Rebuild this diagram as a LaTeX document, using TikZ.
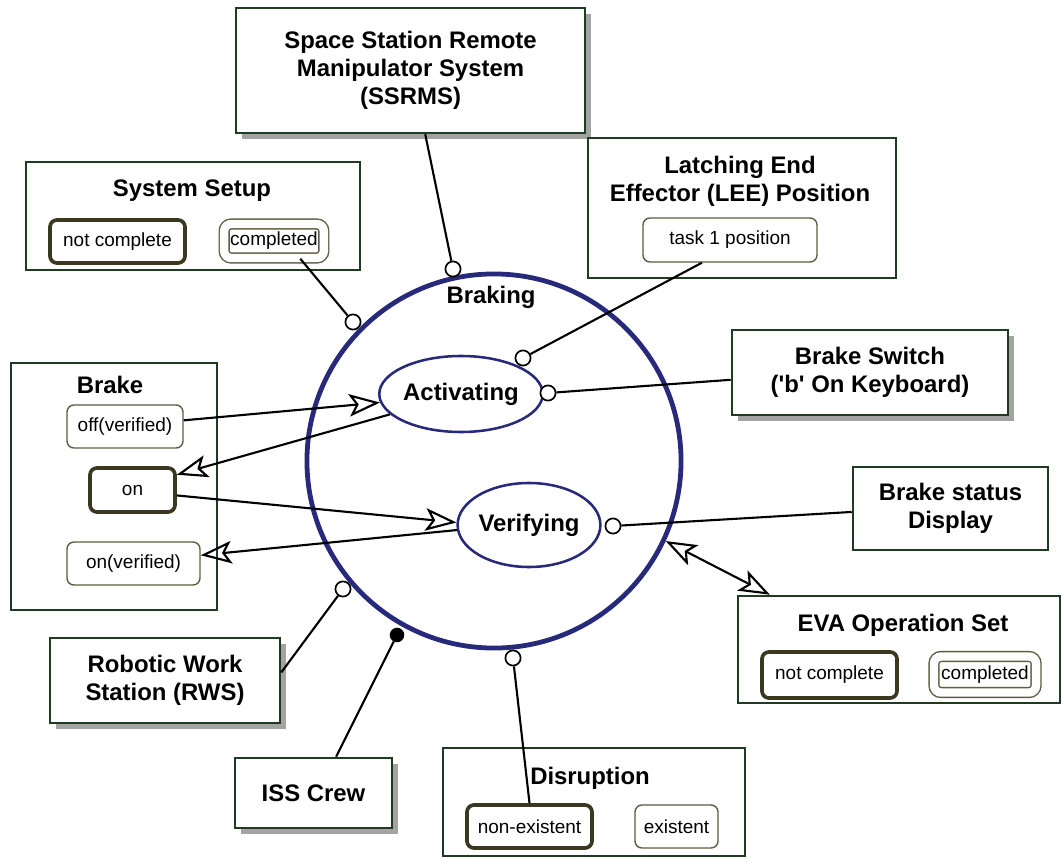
\documentclass[tikz,border=0pt]{standalone}
\usepackage{fontspec}
\setmainfont{Liberation Sans}
\usetikzlibrary{arrows.meta,shapes.geometric,shadows}
\definecolor{Navy}{HTML}{27297A}
\definecolor{Forest}{HTML}{1F3B22}
\definecolor{Olive}{HTML}{3A3820}
\definecolor{OliveL}{HTML}{5E5C42}
\definecolor{Shade}{HTML}{A3A3A3}

\begin{document}
\begin{tikzpicture}[x=0.025cm,y=-0.025cm,
    font=\fontsize{17}{20}\selectfont\bfseries,
    obj/.style={draw=Forest,fill=white,line width=1.8pt,inner sep=0pt,align=center},
    phys/.style={obj,drop shadow={shadow xshift=0.14cm,shadow yshift=-0.14cm,fill=Shade,opacity=1}},
    ttl/.style={inner sep=0pt,align=center},
    st/.style={draw=OliveL,fill=white,rounded corners=5pt,line width=1pt,inner sep=0pt,
      font=\fontsize{13.5}{15}\selectfont\mdseries},
    stinit/.style={st,draw=Olive,line width=2.6pt},
    stfinal/.style={st,double,double distance=6pt},
    proc/.style={ellipse,draw=Navy,line width=1.8pt,inner sep=0pt},
    lnk/.style={circle,draw=black,fill=white,line width=1.2pt,minimum size=0.38cm,inner sep=0pt},
    agt/.style={lnk,fill=black,minimum size=0.32cm},
    lk/.style={line width=1.5pt},
    arr/.style={line width=1.5pt,-{Stealth[open,length=22pt,width=16pt,inset=5pt]}},
    arr2/.style={line width=1.5pt,{Stealth[open,length=22pt,width=16pt,inset=5pt]}-{Stealth[open,length=22pt,width=16pt,inset=5pt]}}]
  \useasboundingbox (0,0) rectangle (1062,859);

  % objects
  \node[phys,minimum width=8.725cm,minimum height=3.125cm] (SSRMS) at (410.5,70.5) {Space Station Remote\\Manipulator System\\(SSRMS)};

  \node[obj,minimum width=8.35cm,minimum height=2.7cm] (Setup) at (193,216) {};
  \node[ttl] (SetupT) at (192,191) {System Setup};
  \node[stinit,minimum width=3.375cm,minimum height=1.075cm] (SetupNC) at (117.5,241.5) {not complete};
  \node[stfinal,minimum width=2.49cm,minimum height=0.85cm] (SetupC) at (274,241) {completed};

  \node[obj,minimum width=7.7cm,minimum height=3.5cm] (LEE) at (742,208) {};
  \node[ttl] (LEET) at (740,181.5) {Latching End\\Effector (LEE) Position};
  \node[st,minimum width=4.35cm,minimum height=1.1cm] (Task) at (730,240) {task 1 position};

  \node[phys,minimum width=6.9cm,minimum height=2.125cm] (Switch) at (870,372.5) {Brake Switch\\(\textquotesingle b\textquotesingle{} On Keyboard)};

  \node[obj,minimum width=5.15cm,minimum height=6.175cm] (Brk) at (114,486.5) {};
  \node[ttl] (BrkT) at (110,385) {Brake};
  \node[st,minimum width=2.9cm,minimum height=1.075cm] (Off) at (125,426.5) {off(verified)};
  \node[stinit,minimum width=2.125cm,minimum height=1.1cm] (On) at (132.5,490) {on};
  \node[st,minimum width=3.325cm,minimum height=1.075cm] (OnV) at (133.5,563.5) {on(verified)};

  \node[obj,minimum width=4.875cm,minimum height=2.075cm] (Disp) at (950.5,508.5) {Brake status\\Display};

  \node[obj,minimum width=8.05cm,minimum height=2.675cm] (EVA) at (899,649.5) {};
  \node[ttl] (EVAT) at (903,625) {EVA Operation Set};
  \node[stinit,minimum width=3.375cm,minimum height=1.15cm] (EVANC) at (829.5,675) {not complete};
  \node[stfinal,minimum width=2.55cm,minimum height=0.9cm] (EVAC) at (985,674.5) {completed};

  \node[phys,minimum width=5.75cm,minimum height=2.125cm] (RWS) at (165,680.5) {Robotic Work\\Station (RWS)};
  \node[phys,minimum width=3.925cm,minimum height=1.75cm] (Crew) at (313.5,793) {ISS Crew};

  \node[obj,minimum width=7.55cm,minimum height=2.7cm] (Disr) at (594,802) {};
  \node[ttl] (DisrT) at (590,778) {Disruption};
  \node[stinit,minimum width=3.125cm,minimum height=1.075cm] (NonEx) at (529.5,826.5) {non-existent};
  \node[st,minimum width=2.075cm,minimum height=1.075cm] (Ex) at (676.5,826.5) {existent};

  % processes
  \node[circle,draw=Navy,line width=3.4pt,minimum size=9.35cm,inner sep=0pt] (Braking) at (494,461) {};
  \node[ttl] (BrakingT) at (491,297) {Braking};
  \node[proc,minimum width=3.7cm,minimum height=1.9cm] (Act) at (461,394) {Activating};
  \node[proc,minimum width=3.55cm,minimum height=2.1cm] (Ver) at (529,525) {Verifying};

  % instrument / condition / agent ends
  \node[lnk] (kSSRMS) at (453,269) {};
  \node[lnk] (kSetup) at (353,322) {};
  \node[lnk] (kTask) at (523,358) {};
  \node[lnk] (kSwitch) at (548,393) {};
  \node[lnk] (kDisp) at (613,526) {};
  \node[lnk] (kRWS) at (343,589) {};
  \node[agt] (kCrew) at (397,635) {};
  \node[lnk] (kDisr) at (513,658) {};

  \draw[lk] (SSRMS.-77) -- (kSSRMS);
  \draw[lk] (SetupC.-34) -- (kSetup);
  \draw[lk] (Task.-141) -- (kTask);
  \draw[lk] (Switch.183) -- (kSwitch);
  \draw[lk] (Disp.182) -- (kDisp);
  \draw[lk] (RWS.4) -- (kRWS);
  \draw[lk] (Crew.58) -- (kCrew);
  \draw[lk] (NonEx.north) -- (kDisr);

  % state changes
  \draw[arr] (Off.6) -- (Act.186);
  \draw[arr] (Act.196) -- (On.19);
  \draw[arr] (On.-7) -- (Ver.178);
  \draw[arr] (Ver.184) -- (OnV.7);
  \draw[arr2] (EVA.157) -- (Braking.-25);
\end{tikzpicture}
\end{document}
